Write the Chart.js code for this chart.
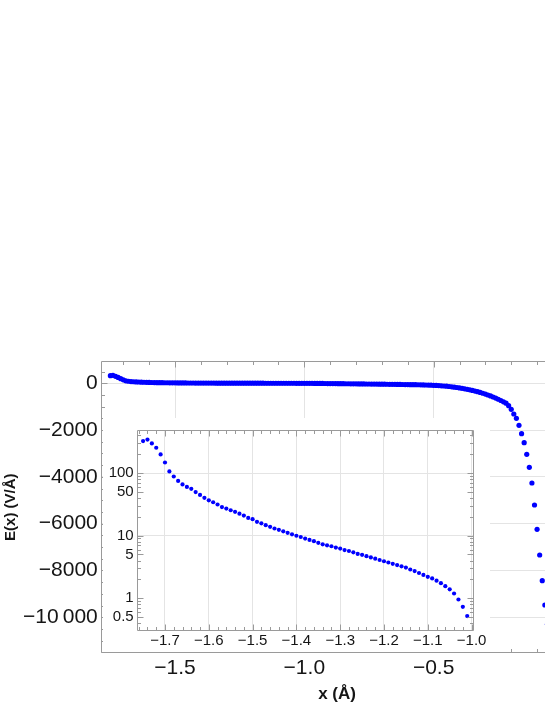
<!DOCTYPE html>
<html>
<head>
<meta charset="utf-8">
<script src="https://cdn.jsdelivr.net/npm/chart.js@4.4.1/dist/chart.umd.min.js"></script>
<style>
  html, body { margin: 0; padding: 0; background: #fff; overflow: hidden; width: 545px; height: 705px; }
  #mainBox { position: absolute; left: 0; top: 0; }
  #insetBox { position: absolute; left: 103px; top: 418px; background: #fff; }
</style>
</head>
<body>
<div id="mainBox"><canvas id="mainChart" width="600" height="705"></canvas></div>
<div id="insetBox"><canvas id="insetChart" width="387" height="234"></canvas></div>
<script>
// x positions (Å) of the inset points, also the start of the full curve
const insetX = [-1.75,-1.74,-1.73,-1.72,-1.71,-1.70,-1.69,-1.68,-1.67,-1.66,-1.65,-1.64,-1.63,-1.62,-1.61,
  -1.60,-1.59,-1.58,-1.57,-1.56,-1.55,-1.54,-1.53,-1.52,-1.51,-1.50,-1.49,-1.48,-1.47,-1.46,
  -1.45,-1.44,-1.43,-1.42,-1.41,-1.40,-1.39,-1.38,-1.37,-1.36,-1.35,-1.34,-1.33,-1.32,-1.31,
  -1.30,-1.29,-1.28,-1.27,-1.26,-1.25,-1.24,-1.23,-1.22,-1.21,-1.20,-1.19,-1.18,-1.17,-1.16,
  -1.15,-1.14,-1.13,-1.12,-1.11,-1.10,-1.09,-1.08,-1.07,-1.06,-1.05,-1.04,-1.03,-1.02,-1.01];
// E(x) in V/Å for those points (positive, shown on log axis in inset)
const insetE = [324,342,297,253,198,147,106,88,74.7,65.6,59.9,55.8,49.6,44.6,40.1,
  36.6,34.1,31.4,28.6,27.0,25.4,24.0,22.4,20.9,19.2,18.3,16.6,15.7,14.7,13.8,
  13.0,12.4,11.7,11.1,10.5,9.96,9.5,8.97,8.54,8.15,7.68,7.26,7.01,6.77,6.44,
  6.22,5.88,5.68,5.41,5.1,4.93,4.70,4.49,4.29,4.08,3.90,3.72,3.55,3.39,3.24,
  3.09,2.88,2.72,2.53,2.36,2.20,2.07,1.91,1.74,1.56,1.39,1.19,0.955,0.73,0.52];

// rest of the full curve
const tailX = [-1.00,-0.99,-0.98,-0.97,-0.96,-0.95,-0.94,-0.93,-0.92,-0.91,
  -0.90,-0.89,-0.88,-0.87,-0.86,-0.85,-0.84,-0.83,-0.82,-0.81,
  -0.80,-0.79,-0.78,-0.77,-0.76,-0.75,-0.74,-0.73,-0.72,-0.71,
  -0.70,-0.69,-0.68,-0.67,-0.66,-0.65,-0.64,-0.63,-0.62,-0.61,
  -0.60,-0.59,-0.58,-0.57,-0.56,-0.55,-0.54,-0.53,-0.52,-0.51,
  -0.50,-0.49,-0.48,-0.47,-0.46,-0.45,-0.44,-0.43,-0.42,-0.41,
  -0.40,-0.39,-0.38,-0.37,-0.36,-0.35,-0.34,-0.33,-0.32,-0.31,
  -0.30,-0.29,-0.28,-0.27,-0.26,-0.25,-0.24,-0.23,-0.22,-0.21,
  -0.20,-0.19,-0.18,-0.17,-0.16,-0.15,-0.14,-0.13,-0.12,-0.11,
  -0.10,-0.09,-0.08,-0.07,-0.06];
const tailE = [0.3,-0.5,-1.5,-2.5,-3.5,-5,-6,-7,-8.5,-10,
  -11,-12,-13.5,-15,-16,-17.5,-19,-20,-21.5,-23,
  -24,-25.5,-27,-28,-29.5,-31,-32,-33.5,-35,-36.5,
  -38,-39.5,-41,-42.5,-44,-45.5,-47,-49,-51,-53,
  -55,-57,-59,-61,-63,-66,-69,-72,-76,-80,
  -85,-91,-98,-106,-115,-125,-137,-150,-164,-180,
  -197,-215,-235,-256,-279,-304,-331,-360,-391,-425,
  -461,-500,-541,-585,-632,-682,-735,-790,-850,-957,
  -1111,-1312,-1496,-1795,-2154,-2539,-3035,-3590,-4261,-5202,
  -6240,-7339,-8437,-9476,-10300];

// tick labels
const mainXTicks = [-1.5, -1.0, -0.5];
const mainYTicks = [0, -2000, -4000, -6000, -8000, -10000];
const insetXTicks = [-1.7, -1.6, -1.5, -1.4, -1.3, -1.2, -1.1, -1.0];
const insetYTicks = [0.5, 1, 5, 10, 50, 100];
const insetYGrid = [10, 100];

const BLUE = 'rgb(0,0,255)';
const GRID = '#e4e4e4';
const FRAME = '#9a9a9a';
const TXT = '#151515';
const FONT = "'Liberation Sans', Arial, sans-serif";

function minus(s) { return s.replace('-', '\u2212'); }

function fmtMainY(v) {
  if (v === -10000) return '\u221210\u2009000';
  return minus(String(v));
}

// minor / major frame tick positions (not data)
function range(a, b, step) {
  const out = [];
  for (let v = a; v <= b + step / 1000; v += step) out.push(+v.toFixed(6));
  return out;
}

// Mathematica style frame with inward ticks
const framePlugin = {
  id: 'frame',
  afterDraw(chart, args, opts) {
    const { ctx, chartArea: a, scales } = chart;
    const L = Math.round(a.left) + 0.5, R = Math.round(a.right) - 0.5;
    const T = Math.round(a.top) + 0.5, B = Math.round(a.bottom) - 0.5;
    ctx.save();
    ctx.strokeStyle = opts.color;
    ctx.lineWidth = 1;
    ctx.beginPath();
    ctx.rect(L, T, R - L, B - T);
    const xTick = (vals, len) => vals.forEach(v => {
      const p = Math.round(scales.x.getPixelForValue(v)) + 0.5;
      if (p < L || p > R) return;
      ctx.moveTo(p, B); ctx.lineTo(p, B - len);
      ctx.moveTo(p, T); ctx.lineTo(p, T + len);
    });
    const yTick = (vals, len) => vals.forEach(v => {
      const p = Math.round(scales.y.getPixelForValue(v)) + 0.5;
      if (p < T || p > B) return;
      ctx.moveTo(L, p); ctx.lineTo(L + len, p);
      ctx.moveTo(R, p); ctx.lineTo(R - len, p);
    });
    xTick(opts.xMajor, 6); xTick(opts.xMinor, 3.5);
    yTick(opts.yMajor, 6); yTick(opts.yMinor, 3.5);
    ctx.stroke();
    ctx.restore();
  }
};

const mainPoints = insetX.concat(tailX).map((x, i) => ({ x: x, y: insetE.concat(tailE)[i] }));
const insetPoints = insetX.map((x, i) => ({ x: x, y: insetE[i] }));

new Chart(document.getElementById('mainChart'), {
  type: 'scatter',
  data: { datasets: [{ data: mainPoints, pointRadius: 2.6, pointBorderWidth: 0, pointBackgroundColor: BLUE, pointBorderColor: BLUE }] },
  plugins: [framePlugin],
  options: {
    responsive: false,
    animation: false,
    layout: { padding: { top: 361, right: 26.7, bottom: 0, left: 0 } },
    scales: {
      x: {
        type: 'linear', min: -1.787, max: 0.04,
        afterBuildTicks: s => { s.ticks = mainXTicks.map(v => ({ value: v })); },
        afterFit: s => { s.height = 51.7; },
        grid: { color: GRID, drawTicks: false },
        border: { display: false },
        ticks: { font: { family: FONT, size: 21 }, color: TXT, padding: 2, maxRotation: 0, autoSkip: false,
          callback: v => minus(v.toFixed(1)) },
        title: { display: true, text: 'x (Å)', color: TXT, font: { family: FONT, size: 17, weight: 'bold' }, padding: { top: 0, bottom: 0.8 } }
      },
      y: {
        type: 'linear', min: -11540, max: 953,
        afterBuildTicks: s => { s.ticks = mainYTicks.map(v => ({ value: v })); },
        afterFit: s => { s.width = 100.8; },
        grid: { color: GRID, drawTicks: false },
        border: { display: false },
        ticks: { font: { family: FONT, size: 21 }, color: TXT, padding: 3, callback: v => fmtMainY(v) },
        title: { display: true, text: 'E(x) (V/Å)', color: TXT, font: { family: FONT, size: 15, weight: 'bold' }, padding: { top: 1.5, bottom: 0 } }
      }
    },
    plugins: {
      legend: { display: false },
      tooltip: { enabled: false },
      frame: { color: FRAME, xMajor: [-1.5, -1.0, -0.5, 0], xMinor: range(-1.7, 0, 0.1),
        yMajor: range(-10000, 0, 2000), yMinor: range(-11500, 500, 500) }
    }
  }
});

const logMinor = [0.4,0.6,0.7,0.8,0.9,2,3,4,6,7,8,9,20,30,40,60,70,80,90,200,300,400];

new Chart(document.getElementById('insetChart'), {
  type: 'scatter',
  data: { datasets: [{ data: insetPoints, pointRadius: 2.1, pointBorderWidth: 0, pointBackgroundColor: BLUE, pointBorderColor: BLUE }] },
  plugins: [framePlugin],
  options: {
    responsive: false,
    animation: false,
    layout: { padding: { top: 4.7, right: 16, bottom: 0, left: 0 } },
    scales: {
      x: {
        type: 'linear', min: -1.7646, max: -0.9945,
        afterBuildTicks: s => { s.ticks = insetXTicks.map(v => ({ value: v })); },
        afterFit: s => { s.height = 21; },
        grid: { color: GRID, drawTicks: false },
        border: { display: false },
        ticks: { font: { family: FONT, size: 15 }, color: TXT, padding: 1, maxRotation: 0, autoSkip: false,
          callback: v => minus(v.toFixed(1)) }
      },
      y: {
        type: 'logarithmic', min: 0.321, max: 486,
        afterBuildTicks: s => { s.ticks = insetYTicks.map(v => ({ value: v })); },
        afterFit: s => { s.width = 33.7; },
        grid: { color: c => (c.tick && insetYGrid.includes(c.tick.value)) ? GRID : 'rgba(0,0,0,0)', drawTicks: false },
        border: { display: false },
        ticks: { font: { family: FONT, size: 15 }, color: TXT, padding: 3, callback: v => String(v) }
      }
    },
    plugins: {
      legend: { display: false },
      tooltip: { enabled: false },
      frame: { color: FRAME, xMajor: insetXTicks, xMinor: range(-1.76, -1.0, 0.02),
        yMajor: [0.5, 1, 5, 10, 50, 100], yMinor: logMinor }
    }
  }
});
</script>
</body>
</html>
